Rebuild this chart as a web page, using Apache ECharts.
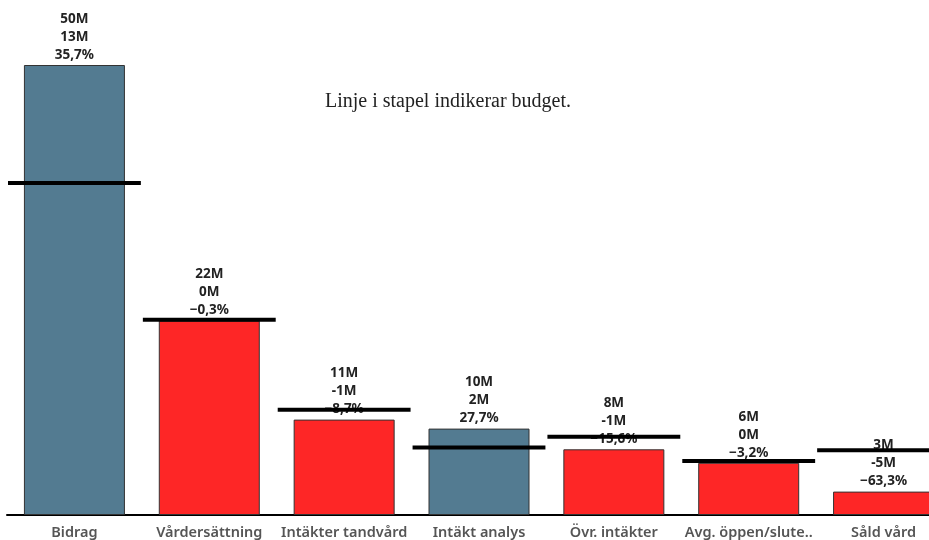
<!DOCTYPE html>
<html>
<head>
<meta charset="utf-8">
<script src="https://cdn.jsdelivr.net/npm/echarts@6/dist/echarts.min.js"></script>
<style>
html,body{margin:0;padding:0;background:#fff;}
#chart{width:929px;height:540px;}
</style>
</head>
<body>
<div id="chart"></div>
<script>
var categories = ['Bidrag', 'Vårdersättning', 'Intäkter tandvård', 'Intäkt analys', 'Övr. intäkter', 'Avg. öppen/slute..', 'Såld vård'];
var actual = [50, 21.6, 10.6, 9.6, 7.3, 5.8, 2.6];
var budget = [36.9, 21.7, 11.7, 7.5, 8.7, 6.0, 7.2];
var actualLabels = ['50M', '22M', '11M', '10M', '8M', '6M', '3M'];
var diffLabels = ['13M', '0M', '-1M', '2M', '-1M', '0M', '-5M'];
var pctLabels = ['35,7%', '\u22120,3%', '\u22128,7%', '27,7%', '\u221215,6%', '\u22123,2%', '\u221263,3%'];
var positive = [true, false, false, true, false, false, false];

var chart = echarts.init(document.getElementById('chart'));
var option = {
  animation: false,
  backgroundColor: '#ffffff',
  title: {
    text: 'Linje i stapel indikerar budget.',
    left: 320,
    top: 87,
    textStyle: {fontFamily: 'Liberation Serif', fontSize: 20, fontWeight: 'normal', color: '#222'}
  },
  grid: {left: 7, width: 944, top: 65, bottom: 25, containLabel: false, outerBoundsMode: 'none'},
  xAxis: {
    type: 'category',
    data: categories,
    axisTick: {show: false},
    axisLine: {lineStyle: {color: '#000', width: 2}},
    axisLabel: {interval: 0, margin: 10, color: '#555', fontFamily: 'Noto Sans', fontWeight: 600, fontSize: 14.5}
  },
  yAxis: {type: 'value', min: 0, max: 50, show: false, splitLine: {show: false}},
  series: [
    {
      type: 'bar',
      z: 2,
      barWidth: 101,
      data: actual.map(function (v, i) {
        return {value: v, itemStyle: {color: positive[i] ? '#537b91' : '#fe2626'}};
      }),
      itemStyle: {borderColor: '#333', borderWidth: 1},
      label: {
        show: true,
        position: 'top',
        distance: 1,
        formatter: function (p) {
          var i = p.dataIndex;
          return actualLabels[i] + '\n' + diffLabels[i] + '\n' + pctLabels[i];
        },
        color: '#222',
        fontFamily: 'Noto Sans',
        fontWeight: 'bold',
        fontSize: 13.5,
        lineHeight: 18
      }
    },
    {
      type: 'custom',
      z: 10,
      data: budget.map(function (v, i) { return [i, v]; }),
      renderItem: function (params, api) {
        var pt = api.coord([api.value(0), api.value(1)]);
        var bw = api.size([1, 0])[0];
        return {
          type: 'line',
          z2: 100,
          shape: {x1: pt[0] - bw / 2 + 1, y1: pt[1], x2: pt[0] + bw / 2 - 1, y2: pt[1]},
          style: {stroke: '#000', lineWidth: 4}
        };
      }
    }
  ]
};
chart.setOption(option);
</script>
</body>
</html>
